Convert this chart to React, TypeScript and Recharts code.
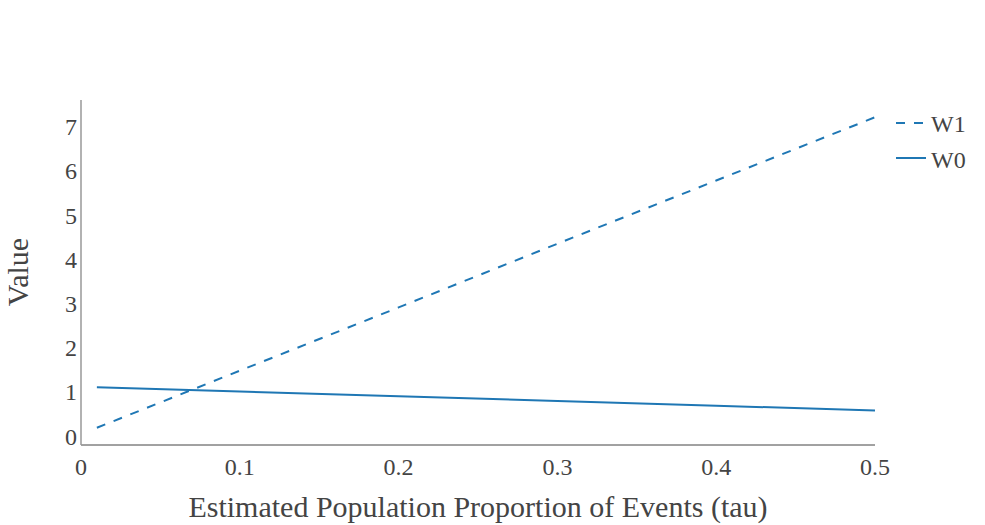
import React from 'react';
import { LineChart, Line, XAxis, YAxis } from 'recharts';

const tau = [0.01, 0.1, 0.2, 0.3, 0.4, 0.5];
const w1Values = [0.19, 1.48, 2.91, 4.35, 5.78, 7.21];
const w0Values = [1.107, 1.01, 0.903, 0.795, 0.688, 0.58];
const xTicks = [0, 0.1, 0.2, 0.3, 0.4, 0.5];
const yTicks = [0, 1, 2, 3, 4, 5, 6, 7];
const seriesNames = ['W1', 'W0'];

const data = tau.map((t, i) => ({ tau: t, W1: w1Values[i], W0: w0Values[i] }));

const FONT = '"Liberation Serif", "Times New Roman", serif';
const TEXT = '#444';
const BLUE = '#1f77b4';

export default function App() {
  return (
    <div style={{ position: 'absolute', left: 0, top: 0, width: 985, height: 525, background: '#fff', fontFamily: FONT }}>
      <LineChart width={985} height={525} data={data} margin={{ top: 100, right: 110, bottom: 50, left: 0 }}>
        <XAxis
          dataKey="tau"
          type="number"
          domain={[0, 0.5]}
          ticks={xTicks}
          tickFormatter={(v: number) => String(v)}
          height={30}
          tickLine={false}
          tickSize={0}
          tickMargin={13}
          axisLine={{ stroke: '#444', strokeWidth: 1 }}
          tick={{ fill: TEXT, fontSize: 24, fontFamily: FONT }}
          label={{
            content: () => (
              <text x={478} y={517} textAnchor="middle" fill={TEXT} fontSize={30} fontFamily={FONT}>
                Estimated Population Proportion of Events (tau)
              </text>
            ),
          }}
        />
        <YAxis
          type="number"
          domain={[-0.2, 7.6]}
          ticks={yTicks}
          width={81}
          tickLine={false}
          tickSize={0}
          tickMargin={4}
          axisLine={{ stroke: '#999', strokeWidth: 1.5 }}
          tick={{ fill: TEXT, fontSize: 24, fontFamily: FONT }}
          label={{
            content: () => (
              <text x={28} y={272} textAnchor="middle" fill={TEXT} fontSize={30} fontFamily={FONT} transform="rotate(-90 28 272)">
                Value
              </text>
            ),
          }}
        />
        <Line dataKey="W1" type="linear" stroke={BLUE} strokeWidth={2} strokeDasharray="9 9" dot={false} isAnimationActive={false} />
        <Line dataKey="W0" type="linear" stroke={BLUE} strokeWidth={2} dot={false} isAnimationActive={false} />
      </LineChart>
      <svg width={985} height={525} style={{ position: 'absolute', left: 0, top: 0, pointerEvents: 'none' }}>
        {seriesNames.map((name, i) => (
          <g key={name}>
            <line x1={896} x2={926} y1={123 + i * 35} y2={123 + i * 35} stroke={BLUE} strokeWidth={2} strokeDasharray={name === 'W1' ? '9 9' : undefined} />
            <text x={931} y={124 + i * 36} dy="0.35em" fill={TEXT} fontSize={24} fontFamily={FONT}>
              {name}
            </text>
          </g>
        ))}
      </svg>
    </div>
  );
}
